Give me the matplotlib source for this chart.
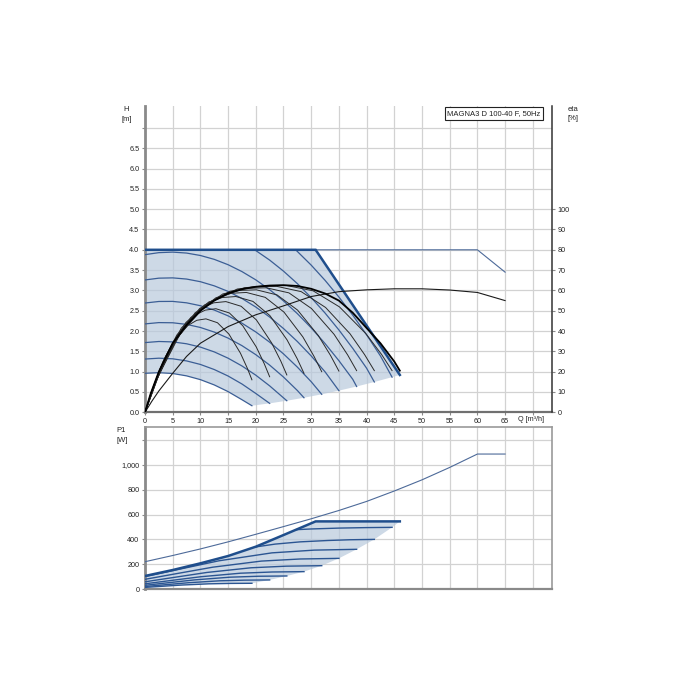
import matplotlib
matplotlib.use('Agg')
import matplotlib.pyplot as plt

plt.rcParams['font.family'] = ['Liberation Sans', 'DejaVu Sans']

# ---------------- data ----------------
title_text = "MAGNA3 D 100-40 F, 50Hz"

q_ticks = [0, 5, 10, 15, 20, 25, 30, 35, 40, 45, 50, 55, 60, 65, 70]
q_labels = ['0', '5', '10', '15', '20', '25', '30', '35', '40', '45', '50', '55', '60', '65', '']
h_ticks = [0.0, 0.5, 1.0, 1.5, 2.0, 2.5, 3.0, 3.5, 4.0, 4.5, 5.0, 5.5, 6.0, 6.5, 7.0]
h_labels = ['0.0', '0.5', '1.0', '1.5', '2.0', '2.5', '3.0', '3.5', '4.0', '4.5', '5.0', '5.5', '6.0', '6.5', '']
eta_ticks = [0, 10, 20, 30, 40, 50, 60, 70, 80, 90, 100]
p_ticks = [0, 200, 400, 600, 800, 1000, 1200]
p_labels = ['0', '200', '400', '600', '800', '1,000', '']

# max curve (H) and twin-head max curve
max_q = [0, 30.8, 46]
max_h = [4.0, 4.0, 0.92]
twin_q = [0, 60, 65]
twin_h = [4.0, 4.0, 3.45]

# lower boundary (min operating line)
low_q = [19.3, 22.5, 25.6, 28.7, 31.9, 35.0, 38.2, 41.4, 44.6, 46.0]
low_h = [0.162, 0.220, 0.285, 0.358, 0.443, 0.533, 0.635, 0.746, 0.865, 0.92]

# constant-curve (speed) lines, H
speed_q = [
    [0, 2.5, 5, 7.5, 10, 12.5, 15, 17.5, 19.3],
    [0, 2.5, 5, 7.5, 10, 12.5, 15, 17.5, 20, 22.5],
    [0, 2.5, 5, 7.5, 10, 12.5, 15, 17.5, 20, 22.5, 25.6],
    [0, 2.5, 5, 7.5, 10, 12.5, 15, 17.5, 20, 22.5, 25, 27.5, 28.7],
    [0, 2.5, 5, 7.5, 10, 12.5, 15, 17.5, 20, 22.5, 25, 27.5, 30, 31.9],
    [0, 2.5, 5, 7.5, 10, 12.5, 15, 17.5, 20, 22.5, 25, 27.5, 30, 32.5, 35],
    [0, 2.5, 5, 7.5, 10, 12.5, 15, 17.5, 20, 22.5, 25, 27.5, 30, 32.5, 35, 37.5, 38.2],
    [19.8, 22.5, 25, 27.5, 30, 32.5, 35, 37.5, 40, 41.4],
    [27.2, 30, 32.5, 35, 37.5, 40, 42.5, 44.6],
]
speed_h = [
    [0.96, 0.975, 0.955, 0.897, 0.804, 0.674, 0.509, 0.31, 0.162],
    [1.311, 1.332, 1.317, 1.265, 1.178, 1.053, 0.893, 0.697, 0.464, 0.22],
    [1.716, 1.743, 1.733, 1.687, 1.605, 1.487, 1.332, 1.141, 0.914, 0.651, 0.285],
    [2.176, 2.208, 2.204, 2.164, 2.088, 1.975, 1.826, 1.641, 1.419, 1.162, 0.868, 0.537, 0.358],
    [2.69, 2.728, 2.73, 2.695, 2.624, 2.517, 2.374, 2.194, 1.978, 1.726, 1.438, 1.113, 0.753, 0.443],
    [3.258, 3.302, 3.309, 3.28, 3.215, 3.113, 2.976, 2.802, 2.591, 2.345, 2.062, 1.743, 1.388, 0.997, 0.533],
    [3.881, 3.93, 3.943, 3.92, 3.86, 3.765, 3.633, 3.464, 3.26, 3.019, 2.742, 2.429, 2.079, 1.693, 1.271, 0.813, 0.635],
    [4.0, 3.747, 3.475, 3.168, 2.824, 2.444, 2.027, 1.575, 1.086, 0.746],
    [4.0, 3.623, 3.249, 2.838, 2.391, 1.908, 1.388, 0.865],
]

# efficiency curves (eta %)
env_q = [0, 1, 2.5, 5, 7.5, 10, 12.5, 15, 17.5, 20, 22.5, 25, 27.5, 30, 32.5, 35, 37.5, 40, 42.5, 45, 46]
env_eta = [0, 9, 20, 34, 43, 50, 55, 58.6, 60.6, 61.8, 62.4, 62.6, 62.2, 60.8, 58.5, 55, 49, 41.5, 34, 25, 20.5]

twin_eta_q = [0, 1.25, 2.5, 5, 7.5, 10, 15, 20, 25, 30, 35, 40, 45, 50, 55, 60, 65]
twin_eta = [0, 5.5, 10.5, 19.2, 27.5, 34, 42.2, 48, 52.4, 57, 59.4, 60.3, 60.8, 60.8, 60.2, 59, 55]

eta_q = [
    [0, 1.1, 2.75, 4.95, 7.7, 9.35, 11.0, 13.08, 15.15, 17.23, 18.47, 19.3],
    [0, 1.28, 3.2, 5.76, 8.96, 10.88, 12.8, 15.23, 17.65, 20.08, 21.53, 22.5],
    [0, 1.46, 3.65, 6.57, 10.22, 12.41, 14.6, 17.35, 20.1, 22.85, 24.5, 25.6],
    [0, 1.64, 4.1, 7.38, 11.48, 13.94, 16.4, 19.48, 22.55, 25.63, 27.47, 28.7],
    [0, 1.83, 4.58, 8.24, 12.81, 15.56, 18.3, 21.7, 25.1, 28.5, 30.54, 31.9],
    [0, 2.01, 5.03, 9.05, 14.07, 17.09, 20.1, 23.83, 27.55, 31.28, 33.51, 35.0],
    [0, 2.19, 5.48, 9.86, 15.33, 18.62, 21.9, 25.98, 30.05, 34.13, 36.57, 38.2],
    [0, 2.38, 5.95, 10.71, 16.66, 20.23, 23.8, 28.2, 32.6, 37.0, 39.64, 41.4],
    [0, 2.56, 6.4, 11.52, 17.92, 21.76, 25.6, 30.35, 35.1, 39.85, 42.7, 44.6],
]
eta_val = [
    [0, 9.5, 21.6, 33.7, 42.7, 45.3, 46.0, 44.1, 38.5, 29.1, 21.7, 16.0],
    [0, 11.0, 24.7, 38.1, 47.8, 50.3, 51.0, 48.9, 42.6, 32.2, 23.9, 17.5],
    [0, 12.2, 27.2, 41.5, 51.4, 53.9, 54.5, 52.2, 45.5, 34.2, 25.3, 18.4],
    [0, 13.2, 29.2, 44.2, 54.2, 56.5, 57.0, 54.6, 47.6, 35.7, 26.4, 19.2],
    [0, 14.2, 31.1, 46.6, 56.4, 58.6, 59.0, 56.6, 49.3, 37.1, 27.4, 20.0],
    [0, 15.4, 33.3, 49.0, 58.3, 60.0, 60.3, 57.8, 50.3, 37.8, 27.9, 20.3],
    [0, 16.6, 35.4, 51.1, 59.6, 61.1, 61.3, 58.8, 51.1, 38.4, 28.3, 20.5],
    [0, 17.7, 37.3, 52.8, 60.7, 61.9, 62.0, 59.4, 51.6, 38.7, 28.4, 20.5],
    [0, 18.8, 38.9, 54.2, 61.3, 62.3, 62.4, 59.8, 51.9, 38.8, 28.5, 20.5],
]

# power P1 [W]
pmax_q = [0, 5, 10, 15, 20, 25, 30.8, 46]
pmax_p = [105, 153, 207, 266, 341, 435, 545, 545]
ptwin_q = [0, 5, 10, 15, 20, 25, 30, 35, 40, 45, 50, 55, 60, 65]
ptwin_p = [220, 270, 323, 380, 441, 503, 566, 633, 706, 790, 880, 980, 1088, 1088]
plow_q = [19.3, 22.5, 25.6, 28.7, 31.9, 35.0, 38.2, 41.4, 44.6, 46.0]
plow_p = [46, 73, 105, 140, 188, 247, 320, 400, 497, 545]
pspeed_q = [
    [0, 2.9, 6.76, 11.58, 15.44, 19.3],
    [0, 3.38, 7.88, 13.5, 18.0, 22.5],
    [0, 3.84, 8.96, 15.36, 20.48, 25.6],
    [0, 4.31, 10.05, 17.22, 22.96, 28.7],
    [0, 4.79, 11.17, 19.14, 25.52, 31.9],
    [0, 5.25, 12.25, 21.0, 28.0, 35.0],
    [0, 5.73, 13.37, 22.92, 30.56, 38.2],
    [19.8, 23.5, 28, 33, 37, 41.4],
    [27.2, 30, 35, 40, 44.6],
]
pspeed_p = [
    [13, 21.3, 32.1, 41.7, 45.0, 46],
    [20, 33.3, 50.7, 66.1, 71.4, 73],
    [30, 48.8, 73.5, 95.3, 102.8, 105],
    [42, 66.5, 98.8, 127.3, 137.1, 140],
    [58, 90.5, 133.4, 171.1, 184.1, 188],
    [78, 120.3, 176.0, 225.0, 241.9, 247],
    [100, 155, 227.6, 291.4, 313.4, 320],
    [338, 362, 380, 391, 397, 400],
    [478, 484, 491, 495, 497],
]

# ---------------- styles ----------------
FILL = '#b8c9dc'
BLUE_THICK = '#1f4e8c'
BLUE = '#3b5e95'
BLUE_THIN = '#4d6a99'
GRID = '#d2d2d2'
SPINE = '#8a8a8a'
TXT = '#222222'
FS = 5.2

W = 700.0
fig = plt.figure(figsize=(7, 7), dpi=100)
fig.patch.set_facecolor('white')

# ---------------- top chart ----------------
ax = fig.add_axes([145 / W, 1 - 412.3 / W, (552 - 145) / W, (412.3 - 106) / W])
ax.set_xlim(0, 73.47)
ax.set_ylim(0, 7.54)
ax.set_xticks(q_ticks, q_labels)
ax.set_yticks(h_ticks, h_labels)
ax.grid(True, color=GRID, lw=0.9, zorder=0)
ax.set_axisbelow(True)
ax.tick_params(axis='both', labelsize=FS, colors=SPINE, labelcolor=TXT, length=2.5, width=0.8, pad=1.5)
ax.spines['top'].set_visible(False)
ax.spines['right'].set_visible(False)
ax.spines['left'].set_color(SPINE)
ax.spines['left'].set_linewidth(2.0)
ax.spines['bottom'].set_color('#707070')
ax.spines['bottom'].set_linewidth(1.6)

# shaded operating area
poly_q = [0] + max_q + low_q[::-1][1:] + speed_q[0][::-1]
poly_h = [speed_h[0][0]] + max_h + low_h[::-1][1:] + speed_h[0][::-1]
ax.fill(poly_q, poly_h, color=FILL, alpha=0.7, lw=0, zorder=1)

for qs, hs in zip(speed_q, speed_h):
    ax.plot(qs, hs, color=BLUE, lw=0.9, zorder=3)
ax.plot(twin_q, twin_h, color=BLUE_THIN, lw=0.8, zorder=3)
ax.plot(max_q, max_h, color=BLUE_THICK, lw=1.8, zorder=5, solid_joinstyle='miter')

ax2 = ax.twinx()
ax2.set_ylim(0, 150.8)
ax2.set_yticks(eta_ticks, [str(t) for t in eta_ticks])
ax2.tick_params(axis='y', labelsize=FS, colors=SPINE, labelcolor=TXT, length=2.5, width=0.8, pad=1.5)
for s in ['top', 'left', 'bottom']:
    ax2.spines[s].set_visible(False)
ax2.spines['right'].set_color('#333333')
ax2.spines['right'].set_linewidth(1.1)

for qs, es in zip(eta_q, eta_val):
    ax2.plot(qs, es, color='#2a2a2a', lw=0.7, zorder=4)
ax2.plot(twin_eta_q, twin_eta, color='#1a1a1a', lw=0.8, zorder=4)
ax2.plot(env_q, env_eta, color='black', lw=1.3, zorder=6)

# axis labels
fig.text(125.8 / W, 1 - 109.2 / W, 'H', fontsize=5.5, color=TXT, ha='center', va='center')
fig.text(127 / W, 1 - 119.3 / W, '[m]', fontsize=5.5, color=TXT, ha='center', va='center')
fig.text(572.5 / W, 1 - 109.5 / W, 'eta', fontsize=5.5, color=TXT, ha='center', va='center')
fig.text(573 / W, 1 - 118 / W, '[%]', fontsize=5.5, color=TXT, ha='center', va='center')
fig.text(518 / W, 1 - 419.5 / W, 'Q [m³/h]', fontsize=FS, color=TXT, ha='left', va='center')
fig.text(494 / W, 1 - 113.5 / W, title_text, fontsize=5.5, color=TXT, ha='center', va='center',
         bbox=dict(boxstyle='square,pad=0.35', fc='white', ec='#222222', lw=0.8))

# ---------------- bottom chart ----------------
bx = fig.add_axes([145 / W, 1 - 589 / W, (552 - 145) / W, (589 - 427) / W])
bx.set_xlim(0, 73.47)
bx.set_ylim(0, 1306)
bx.set_xticks(q_ticks)
bx.set_xticklabels([])
bx.set_yticks(p_ticks, p_labels)
bx.grid(True, color=GRID, lw=0.9, zorder=0)
bx.set_axisbelow(True)
bx.tick_params(axis='y', labelsize=FS, colors=SPINE, labelcolor=TXT, length=2.5, width=0.8, pad=1.5)
bx.tick_params(axis='x', length=0)
for s in ['top', 'right']:
    bx.spines[s].set_color('#9a9a9a')
    bx.spines[s].set_linewidth(1.2)
bx.spines['left'].set_color(SPINE)
bx.spines['left'].set_linewidth(2.0)
bx.spines['bottom'].set_color('#8a8a8a')
bx.spines['bottom'].set_linewidth(1.6)

ppoly_q = [0] + pmax_q + plow_q[::-1][1:] + pspeed_q[0][::-1]
ppoly_p = [pspeed_p[0][0]] + pmax_p + plow_p[::-1][1:] + pspeed_p[0][::-1]
bx.fill(ppoly_q, ppoly_p, color=FILL, alpha=0.7, lw=0, zorder=1)

for qs, ps in zip(pspeed_q, pspeed_p):
    bx.plot(qs, ps, color='#2b5592', lw=1.0, zorder=3)
bx.plot(ptwin_q, ptwin_p, color=BLUE_THIN, lw=0.8, zorder=3)
bx.plot(pmax_q, pmax_p, color=BLUE_THICK, lw=1.8, zorder=5)

fig.text(121 / W, 1 - 430 / W, 'P1', fontsize=5.5, color=TXT, ha='center', va='center')
fig.text(122 / W, 1 - 440 / W, '[W]', fontsize=5.5, color=TXT, ha='center', va='center')

fig.savefig('out.png', dpi=100, facecolor='white')
